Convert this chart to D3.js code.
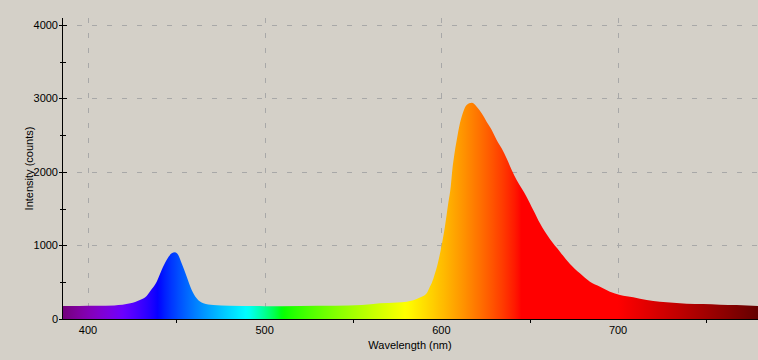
<!DOCTYPE html>
<html>
<head>
<meta charset="utf-8">
<script src="https://cdn.jsdelivr.net/npm/d3@7"></script>
<style>
  html, body { margin: 0; padding: 0; background: #d4d0c8; }
  svg { display: block; }
  text { font-family: "Liberation Sans", Arial, sans-serif; font-size: 11px; fill: #000; }
</style>
</head>
<body>
<svg id="chart" width="758" height="360"></svg>
<script>
// ---- data ----
const wavelengths = [385.3, 395, 405, 415, 424, 429.4, 433.2, 436, 438.9, 441.7, 444.5, 447.4, 449.2, 451.1, 453, 455.9, 458.7, 461.5, 465.3, 470.9, 480, 500, 520, 540, 555, 565.3, 575, 580.4, 587.9, 591.7, 593.5, 594.5, 596.4, 598.2, 600.2, 602, 603.9, 605.3, 606.2, 607.3, 608.7, 610.5, 612.4, 614.3, 617.2, 620, 622.8, 625.6, 628.5, 631.3, 634.1, 636.9, 639.8, 642.6, 645.4, 648.2, 652, 655.8, 661.5, 667.1, 672.8, 678.4, 684.1, 689.8, 695.4, 701.1, 708.6, 716.2, 723.7, 731.2, 738.8, 748.2, 757.7, 767.1, 779.2];
const counts = [178, 178, 180, 185, 213, 258, 313, 404, 508, 667, 803, 893, 907, 871, 758, 576, 395, 281, 213, 190, 180, 175, 178, 180, 190, 213, 225, 235, 292, 350, 440, 486, 621, 780, 1007, 1256, 1574, 1800, 2027, 2231, 2435, 2662, 2821, 2912, 2943, 2889, 2798, 2684, 2571, 2435, 2322, 2186, 2027, 1891, 1778, 1664, 1483, 1302, 1084, 916, 748, 621, 508, 440, 372, 327, 295, 258, 236, 222, 208, 204, 195, 190, 177];
const xTicks = [400, 500, 600, 700];
const xMinorTicks = [450, 550, 650, 750];
const yTicks = [0, 1000, 2000, 3000, 4000];
const yMinorTicks = [500, 1500, 2500, 3500];
const xDomain = [385.3, 779.2];
const yDomain = [0, 4095];
const xTitle = "Wavelength (nm)";
const yTitle = "Intensity (counts)";

// ---- layout ----
const mLeft = 62, mRight = 758, mTop = 18, mBottom = 319;
const svg = d3.select("#chart");
const x = d3.scaleLinear().domain(xDomain).range([mLeft, mRight]);
const y = d3.scaleLinear().domain(yDomain).range([mBottom, mTop]);

// spectral colour of a wavelength (visible spectrum approximation)
function specColor(w) {
  let r, g, b;
  if (w < 440) { r = -(w - 440) / 60; g = 0; b = 1; }
  else if (w < 490) { r = 0; g = (w - 440) / 50; b = 1; }
  else if (w < 510) { r = 0; g = 1; b = -(w - 510) / 20; }
  else if (w < 580) { r = (w - 510) / 70; g = 1; b = 0; }
  else if (w < 645) { r = 1; g = -(w - 645) / 65; b = 0; }
  else { r = 1; g = 0; b = 0; }
  let f;
  if (w < 420) f = 0.3 + 0.7 * (w - 380) / 40;
  else if (w <= 700) f = 1;
  else f = 0.3 + 0.7 * (780 - w) / 80;
  const c = v => Math.round(255 * Math.pow(Math.max(0, v * f), 0.8));
  return `rgb(${c(r)},${c(g)},${c(b)})`;
}

const defs = svg.append("defs");
const grad = defs.append("linearGradient")
  .attr("id", "spec").attr("gradientUnits", "userSpaceOnUse")
  .attr("x1", x(xDomain[0])).attr("x2", x(xDomain[1])).attr("y1", 0).attr("y2", 0);
const stopW = d3.range(xDomain[0], xDomain[1], 2).concat([xDomain[1]]);
grad.selectAll("stop").data(stopW).join("stop")
  .attr("offset", w => (w - xDomain[0]) / (xDomain[1] - xDomain[0]))
  .attr("stop-color", w => specColor(w));

// gridlines
const grid = svg.append("g").attr("stroke", "#a8a8a8").attr("stroke-width", 1)
  .attr("stroke-dasharray", "5,10").attr("shape-rendering", "crispEdges");
grid.selectAll("line.h").data(yTicks.filter(d => d > 0)).join("line")
  .attr("x1", mLeft).attr("x2", mRight)
  .attr("y1", d => Math.round(y(d)) + 0.5).attr("y2", d => Math.round(y(d)) + 0.5);
grid.selectAll("line.v").data(xTicks).join("line")
  .attr("y1", mTop).attr("y2", mBottom)
  .attr("x1", d => Math.round(x(d)) + 0.5).attr("x2", d => Math.round(x(d)) + 0.5);

// spectrum area
const data = wavelengths.map((w, i) => ({ w, v: counts[i] }));
const area = d3.area().x(d => x(d.w)).y0(mBottom).y1(d => y(d.v)).curve(d3.curveMonotoneX);
svg.append("path").datum(data).attr("d", area).attr("fill", "url(#spec)");

// axes lines
const ax = svg.append("g").attr("stroke", "#000").attr("shape-rendering", "crispEdges");
ax.append("line").attr("x1", mLeft + 0.5).attr("x2", mLeft + 0.5).attr("y1", mTop).attr("y2", mBottom + 1);
ax.append("line").attr("x1", mLeft).attr("x2", mRight).attr("y1", mBottom + 0.5).attr("y2", mBottom + 0.5);
// y ticks
ax.selectAll("line.ym").data(yTicks).join("line")
  .attr("x1", mLeft - 3).attr("x2", mLeft + 5)
  .attr("y1", d => Math.round(y(d)) + 0.5).attr("y2", d => Math.round(y(d)) + 0.5);
ax.selectAll("line.yn").data(yMinorTicks).join("line")
  .attr("x1", mLeft - 2).attr("x2", mLeft + 4)
  .attr("y1", d => Math.round(y(d)) + 0.5).attr("y2", d => Math.round(y(d)) + 0.5);
// x minor ticks
ax.selectAll("line.xn").data(xMinorTicks).join("line")
  .attr("y1", mBottom).attr("y2", mBottom + 4)
  .attr("x1", d => Math.round(x(d)) + 0.5).attr("x2", d => Math.round(x(d)) + 0.5);

// tick labels
svg.append("g").selectAll("text").data(yTicks).join("text")
  .attr("x", mLeft - 4).attr("y", d => y(d) + 4).attr("text-anchor", "end").text(d => d);
svg.append("g").selectAll("text").data(xTicks).join("text")
  .attr("x", d => x(d)).attr("y", 334).attr("text-anchor", "middle").text(d => d);

// titles
svg.append("text").attr("x", (mLeft + mRight) / 2).attr("y", 349)
  .attr("text-anchor", "middle").text(xTitle);
svg.append("text").attr("transform", `translate(33,${(mTop + mBottom) / 2}) rotate(-90)`)
  .attr("text-anchor", "middle").text(yTitle);
</script>
</body>
</html>
